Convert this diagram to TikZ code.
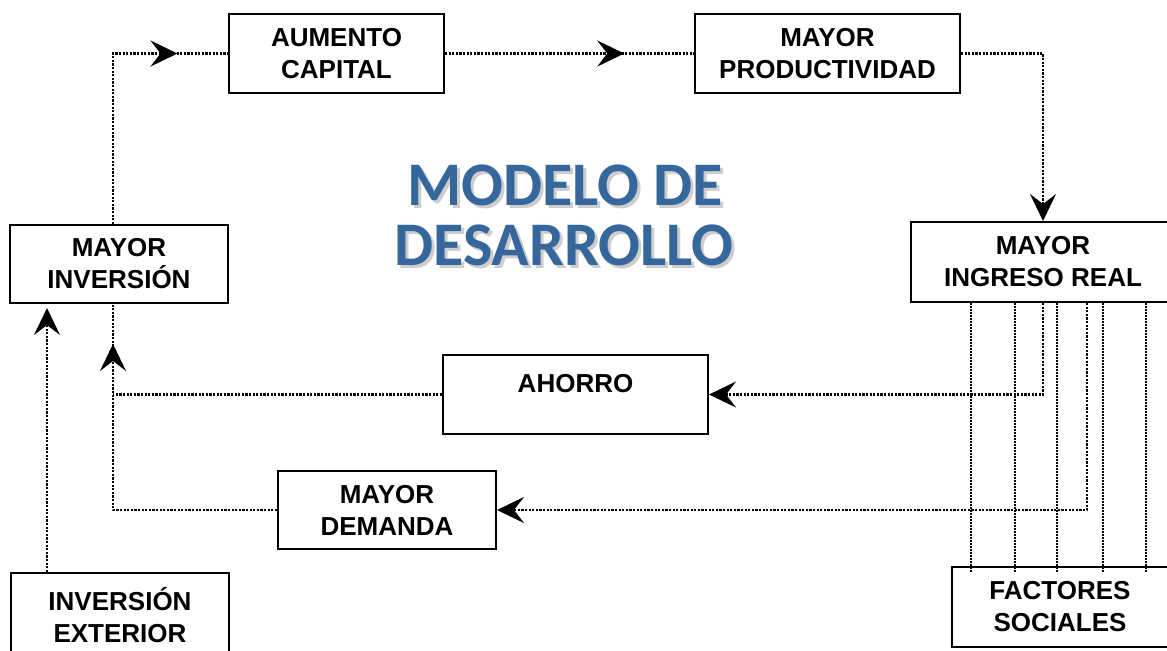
\documentclass[tikz,border=0pt]{standalone}
\usepackage{fontspec}
\setmainfont{Liberation Sans}
\newfontfamily\titlefont{Carlito}
\usetikzlibrary{arrows.meta,decorations.markings,calc}
\definecolor{titleblue}{RGB}{54,103,156}
\definecolor{shadowgray}{RGB}{205,205,205}
\tikzset{
  bigtip/.tip={Stealth[length=13.5pt,width=13pt,inset=5pt]},
  box/.style={draw=black, line width=1pt, align=center, inner sep=0pt,
    font=\fontsize{13}{16}\selectfont\bfseries},
  conn/.style={line width=1.1pt, dash pattern=on 1.1pt off 0.7pt},
  thinconn/.style={line width=0.75pt, dash pattern=on 0.9pt off 0.6pt},
  midarrow/.style={postaction={decorate}, decoration={markings,
    mark=at position #1 with {\arrow{bigtip}}}},
  titletext/.style={font=\titlefont\fontsize{31}{30}\selectfont\bfseries, anchor=base, inner sep=0pt}
}
\begin{document}
\begin{tikzpicture}[x=0.5pt,y=-0.5pt]
\useasboundingbox (0,0) rectangle (1167,650);

% boxes
\node[box, minimum width=107.5pt, minimum height=39.5pt] (cap) at (336.5,53.5) {AUMENTO\\CAPITAL};
\node[box, minimum width=132.5pt, minimum height=39.5pt] (prod) at (827.5,53.5) {MAYOR\\PRODUCTIVIDAD};
\node[box, minimum width=109pt, minimum height=39pt] (inv) at (119,264) {MAYOR\\INVERSIÓN};
\node[box, minimum width=132pt, minimum height=40pt] (ing) at (1043,262) {MAYOR\\INGRESO REAL};
\node[box, minimum width=132.5pt, minimum height=39.5pt] (aho) at (575.5,394.5) {AHORRO\\[-5pt]\mbox{}};
\node[box, minimum width=109pt, minimum height=39pt] (dem) at (387,510) {MAYOR\\DEMANDA};
\node[box, minimum width=109pt, minimum height=42.5pt] (ext) at (120,615.5) {INVERSIÓN\\EXTERIOR};
\node[box, minimum width=108pt, minimum height=40pt] (fac) at (1060,607) {FACTORES\\SOCIALES};

% title with shadow
\node[titletext, text=shadowgray] (t1s) at (568,208) {MODELO DE};
\node[titletext, text=shadowgray] (t2s) at (567,268) {DESARROLLO};
\node[titletext, text=titleblue] (t1) at (565,205) {MODELO DE};
\node[titletext, text=titleblue] (t2) at (564,265) {DESARROLLO};

% helper x positions
\coordinate (cx) at (113,0);
\coordinate (ex) at (47,0);
\coordinate (dx) at (1087,0);
\foreach \n/\xx in {f1/971, f2/1015, f3/1057, f4/1103, f5/1146} {
  \coordinate (\n) at (\xx,0);
}

% connectors
\draw[conn, midarrow=0.823] (inv.north -| cx) |- (cap.west);
\draw[conn, midarrow=0.72] (cap.east) -- (prod.west);
\draw[conn, -bigtip] (prod.east) -| (ing.north);
\draw[conn, -bigtip] (ing.south) |- (aho.east);
\draw[conn, -bigtip] (ing.south -| dx) |- (dem.east);
\draw[conn] (aho.west) -- (aho.west -| cx);
\draw[conn, midarrow=0.892] (dem.west) -| (inv.south -| cx);
\draw[conn, -bigtip, shorten >=2pt] (ext.north -| ex) -- (inv.south -| ex);

\foreach \n in {f1,f2,f3,f4,f5} {
  \draw[thinconn, shorten >=-3pt] (ing.south -| \n) -- (fac.north -| \n);
}
\end{tikzpicture}
\end{document}
